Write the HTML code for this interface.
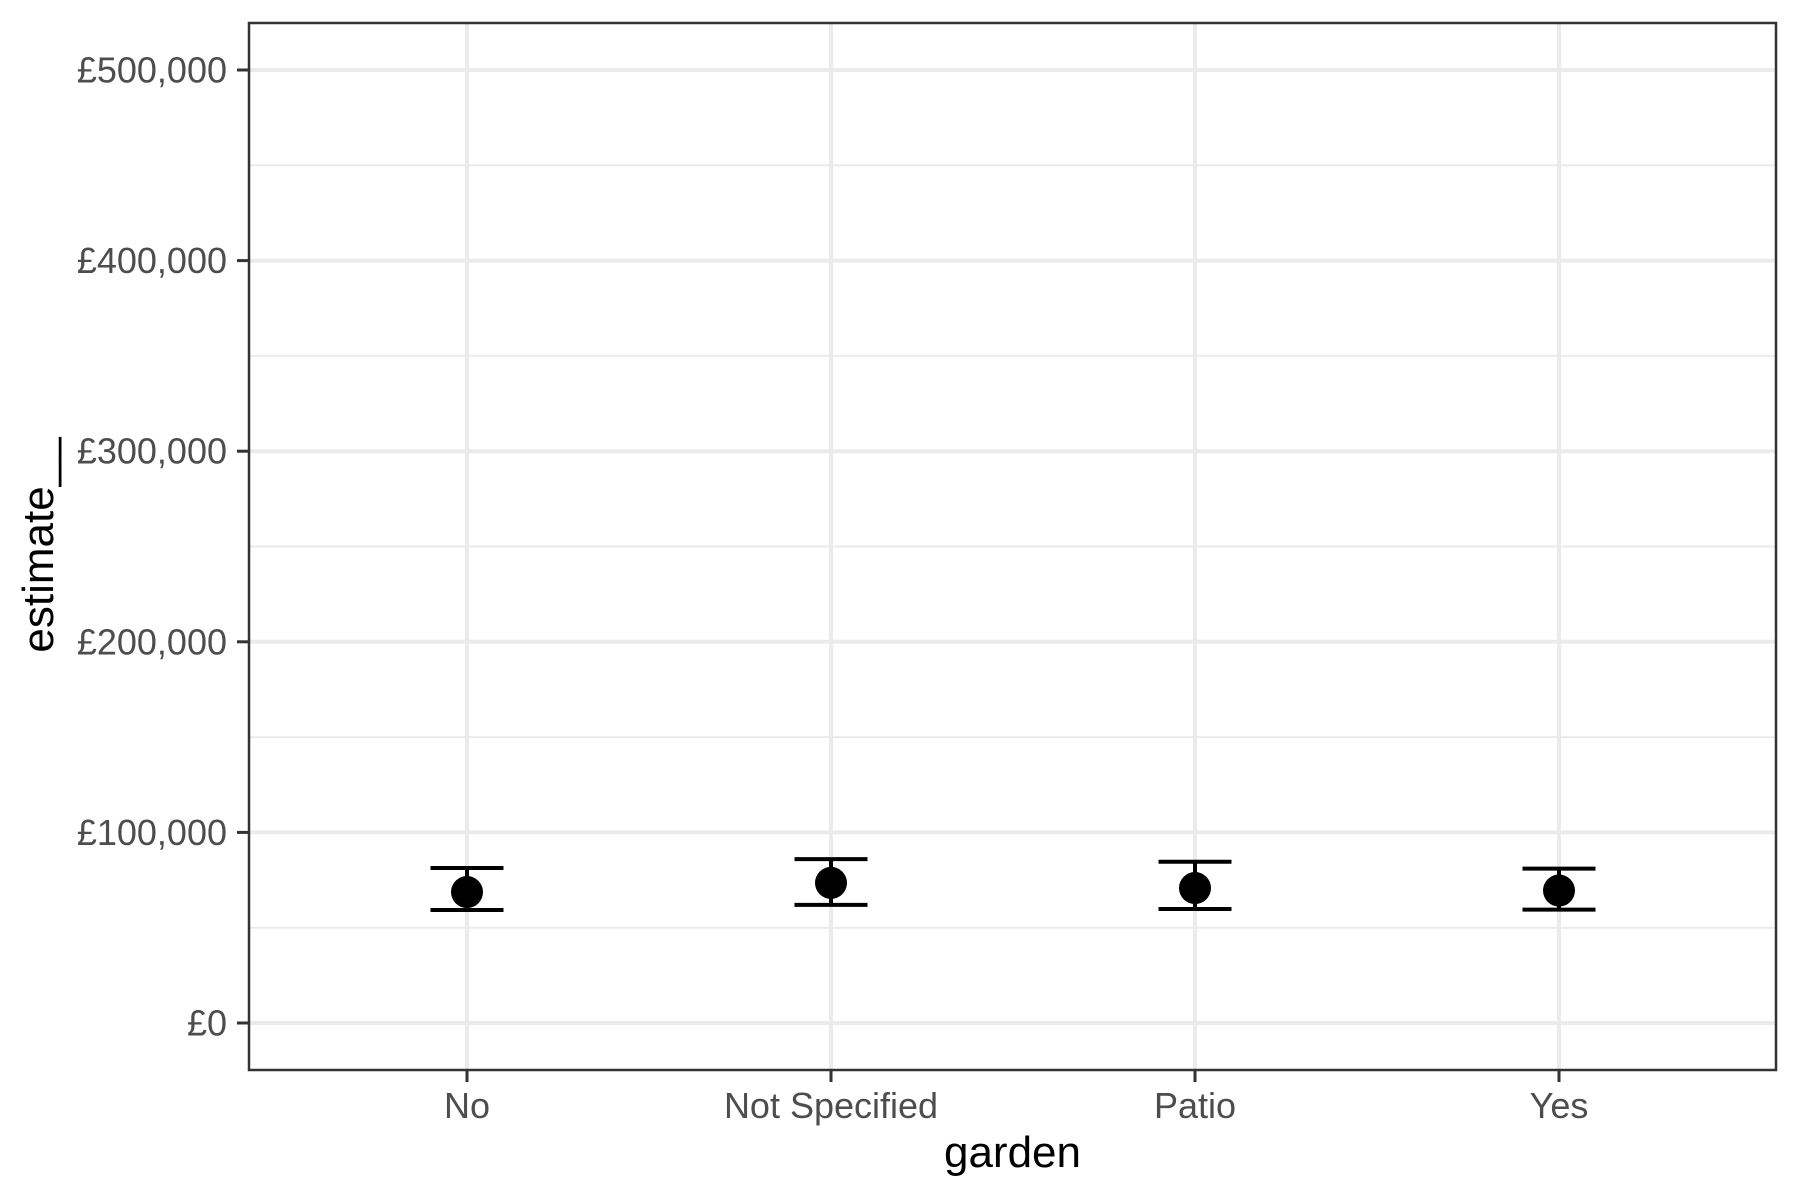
<!DOCTYPE html>
<html><head><meta charset="utf-8"><style>
html,body{margin:0;padding:0;background:#fff}
svg{display:block}
text{font-family:"Liberation Sans",Arial,sans-serif}
</style></head><body>
<svg id="chart" width="1800" height="1200" xmlns="http://www.w3.org/2000/svg"></svg>
<script>
const categories = ["No","Not Specified","Patio","Yes"];
const estimates = [68.7, 73.5, 70.8, 69.5];
const upperValues = [81.3, 86.0, 84.6, 81.0];
const lowerValues = [59.3, 62.0, 59.8, 59.5];
const yTicks = [0,100,200,300,400,500];
const yTickLabels = ["£0","£100,000","£200,000","£300,000","£400,000","£500,000"];

const NS="http://www.w3.org/2000/svg";
const svg=document.getElementById('chart');
const L=249,R=1776,T=23,B=1070;
function y(v){return 1023-v*1.906;}
function x(i){return 467+i*364;}
function mk(tag,attrs,parent){const e=document.createElementNS(NS,tag);for(const k in attrs)e.setAttribute(k,attrs[k]);(parent||svg).appendChild(e);return e;}

const panel=mk('rect',{x:L,y:T,width:R-L,height:B-T,fill:'#fff'});


for(let i=0;i<yTicks.length-1;i++){
  const v=(yTicks[i]+yTicks[i+1])/2;
  const g=mk('line',{x1:L,x2:R,y1:y(v),y2:y(v),stroke:'#ebebeb','stroke-width':2});
  
  
}
yTicks.forEach((v,i)=>{
  const g=mk('line',{x1:L,x2:R,y1:y(v),y2:y(v),stroke:'#ebebeb','stroke-width':4});
  
  
  const t=mk('line',{x1:237,x2:L,y1:y(v),y2:y(v),stroke:'#333','stroke-width':3});
  
  
  const lb=mk('text',{x:227,y:y(v)+12.5,'text-anchor':'end','font-size':36,fill:'#4d4d4d'});
  lb.textContent=yTickLabels[i];
  
  
});
categories.forEach((c,i)=>{
  const g=mk('line',{x1:x(i),x2:x(i),y1:T,y2:B,stroke:'#ebebeb','stroke-width':4});
  
  
  const t=mk('line',{x1:x(i),x2:x(i),y1:B,y2:B+12,stroke:'#333','stroke-width':3});
  
  
  const lb=mk('text',{x:x(i),y:1118,'text-anchor':'middle','font-size':36,fill:'#4d4d4d'});
  lb.textContent=c;
  
  
});
categories.forEach((c,i)=>{
  const grp=mk('g',{});
  
  
  const yu=y(upperValues[i]), yl=y(lowerValues[i]);
  mk('line',{x1:x(i),x2:x(i),y1:yu,y2:yl,stroke:'#000','stroke-width':4},grp);
  mk('line',{x1:x(i)-36.5,x2:x(i)+36.5,y1:yu,y2:yu,stroke:'#000','stroke-width':4},grp);
  mk('line',{x1:x(i)-36.5,x2:x(i)+36.5,y1:yl,y2:yl,stroke:'#000','stroke-width':4},grp);
  const p=mk('circle',{cx:x(i),cy:y(estimates[i]),r:16,fill:'#000'});
  
  
});
const border=mk('rect',{x:L,y:T,width:R-L,height:B-T,fill:'none',stroke:'#333','stroke-width':2.5});


const xt=mk('text',{x:(L+R)/2,y:1167,'text-anchor':'middle','font-size':44,fill:'#000'});
xt.textContent='garden';


const yt=mk('text',{x:0,y:0,'text-anchor':'middle','font-size':44,fill:'#000',transform:'translate(53,545) rotate(-90)'});
yt.textContent='estimate__';


</script>
</body></html>
